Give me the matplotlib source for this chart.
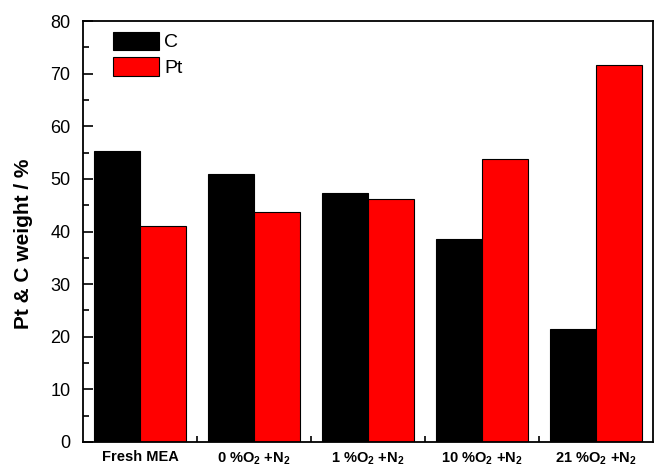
import matplotlib
matplotlib.use("Agg")
import matplotlib.pyplot as plt
import numpy as np

plt.rcParams['font.family'] = ['Liberation Sans', 'DejaVu Sans']
plt.rcParams['mathtext.fontset'] = 'custom'
plt.rcParams['mathtext.rm'] = 'Liberation Sans:bold'
plt.rcParams['mathtext.it'] = 'Liberation Sans:bold'
plt.rcParams['mathtext.bf'] = 'Liberation Sans:bold'

categories = ["Fresh MEA", r"0 %O$_2$ +N$_2$", r"1 %O$_2$ +N$_2$",
              r"10 %O$_2$ +N$_2$", r"21 %O$_2$ +N$_2$"]
c_values = [55.3, 51.0, 47.4, 38.5, 21.4]
pt_values = [41.0, 43.7, 46.2, 53.8, 71.6]
yticks = [0, 10, 20, 30, 40, 50, 60, 70, 80]

fig = plt.figure(figsize=(6.54, 4.72), dpi=100)
ax = fig.add_axes([83/654, 1-442/472, (653-83)/654, (442-21)/472])

x = np.arange(1, len(categories)+1)
w = 0.4
ax.bar(x - w/2, c_values, width=w, color='black', edgecolor='black', linewidth=0.8, label='C')
ax.bar(x + w/2, pt_values, width=w, color='#ff0000', edgecolor='black', linewidth=0.8, label='Pt')

ax.set_xlim(0.5, 5.5)
ax.set_ylim(0, 80)
ax.set_yticks(yticks)
ax.set_yticks(np.arange(5, 80, 10), minor=True)
ax.set_xticks(x)
ax.set_xticks(np.arange(1.5, 5.0, 1.0), minor=True)
ax.set_xticklabels(categories, fontsize=10.5, fontweight='bold')
ax.tick_params(axis='y', labelsize=13, pad=9)
ax.tick_params(which='major', direction='in', length=7, width=1.2)
ax.tick_params(which='minor', direction='in', length=4, width=1.2)
ax.tick_params(axis='x', which='major', pad=6)
for s in ax.spines.values():
    s.set_linewidth(1.3)

ax.set_ylabel("Pt & C weight / %", fontsize=15, fontweight='bold')
ax.yaxis.set_label_coords(-0.088, 0.47)

ax.legend(loc='upper left', bbox_to_anchor=(0.052, 0.975), frameon=False,
          fontsize=14, handlelength=2.4, handleheight=1.1, labelspacing=0.3,
          borderpad=0, borderaxespad=0, handletextpad=0.25)

fig.savefig("out.png", dpi=100)
